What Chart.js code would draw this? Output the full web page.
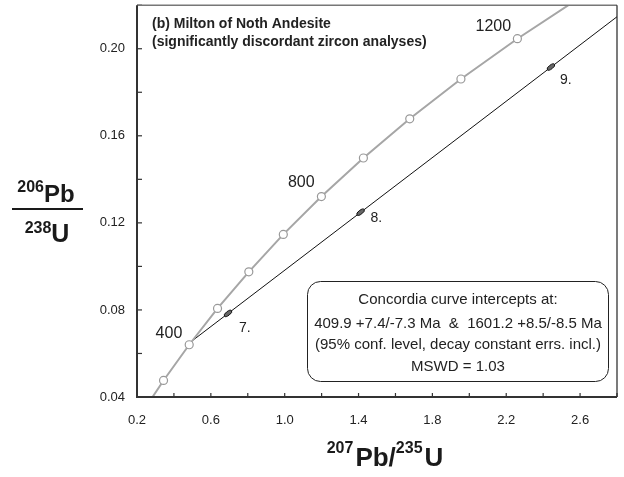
<!DOCTYPE html>
<html>
<head>
<meta charset="utf-8">
<script src="https://cdn.jsdelivr.net/npm/chart.js@4"></script>
<style>
  body { margin: 0; background: #fff; }
  canvas { display: block; }
</style>
</head>
<body>
<canvas id="concordia" width="624" height="477"></canvas>
<script>
// concordia curve, one marker every 100 Ma
const concordiaAges = [200, 300, 400, 500, 600, 700, 800, 900, 1000, 1100, 1200, 1300];
const concordiaX = [0.2177, 0.3437, 0.4828, 0.6362, 0.8057, 0.9925, 1.1988, 1.4263, 1.6774, 1.9546, 2.2604, 2.5977];
const concordiaY = [0.0315, 0.0476, 0.0640, 0.0807, 0.0975, 0.1147, 0.1321, 0.1498, 0.1678, 0.1861, 0.2046, 0.2234];

// discordia line (lower intercept -> right edge)
const discordiaX = [0.4973, 2.8];
const discordiaY = [0.0657, 0.2147];

// zircon analyses
const spotNames = ['7.', '8.', '9.'];
const spotX = [0.693, 1.411, 2.442];
const spotY = [0.0784, 0.1249, 0.1916];
const spotLabelX = [0.784, 1.496, 2.523];
const spotLabelY = [0.0717, 0.1222, 0.1857];

// age labels on concordia
const ageLabels = ['400', '800', '1200'];
const ageLabelX = [0.373, 1.090, 2.130];
const ageLabelY = [0.0690, 0.1385, 0.2103];

const xTickLabels = ['0.2', '0.6', '1.0', '1.4', '1.8', '2.2', '2.6'];
const yTickLabels = ['0.04', '0.08', '0.12', '0.16', '0.20'];

const boxLines = [
  'Concordia curve intercepts at:',
  '409.9 +7.4/-7.3 Ma  &  1601.2 +8.5/-8.5 Ma',
  '(95% conf. level, decay constant errs. incl.)',
  'MSWD = 1.03'
];

const FONT = '"Liberation Sans", Arial, sans-serif';

function drawParts(ctx, parts, cx, baseline) {
  let total = 0;
  parts.forEach(p => { ctx.font = p.font; total += ctx.measureText(p.text).width + (p.gap || 0); });
  let x = cx - total / 2;
  ctx.textAlign = 'left';
  ctx.textBaseline = 'alphabetic';
  parts.forEach(p => {
    ctx.font = p.font;
    ctx.fillText(p.text, x, baseline + (p.dy || 0));
    x += ctx.measureText(p.text).width + (p.gap || 0);
  });
}

function noPad(s) {
  s.paddingTop = 0; s.paddingBottom = 0; s.paddingLeft = 0; s.paddingRight = 0;
}

const decorPlugin = {
  id: 'decor',
  beforeDatasetsDraw(chart) {
    const { ctx, chartArea: a, scales: { x, y } } = chart;
    ctx.save();
    // inward tick marks
    ctx.strokeStyle = '#333';
    ctx.lineWidth = 1.2;
    x.ticks.forEach(t => {
      const px = x.getPixelForValue(t.value);
      ctx.beginPath(); ctx.moveTo(px, a.bottom); ctx.lineTo(px, a.bottom - 4); ctx.stroke();
    });
    y.ticks.forEach(t => {
      const py = y.getPixelForValue(t.value);
      ctx.beginPath(); ctx.moveTo(a.left, py); ctx.lineTo(a.left + 5, py); ctx.stroke();
    });
    ctx.restore();
  },
  afterDatasetsDraw(chart) {
    const { ctx, chartArea: a, scales: { x, y } } = chart;
    ctx.save();

    // error ellipses along the discordia
    const ang = Math.atan2(
      y.getPixelForValue(discordiaY[1]) - y.getPixelForValue(discordiaY[0]),
      x.getPixelForValue(discordiaX[1]) - x.getPixelForValue(discordiaX[0]));
    spotX.forEach((v, i) => {
      ctx.beginPath();
      ctx.ellipse(x.getPixelForValue(v), y.getPixelForValue(spotY[i]), 4.5, 2, ang, 0, Math.PI * 2);
      ctx.fillStyle = '#666';
      ctx.fill();
      ctx.strokeStyle = '#111';
      ctx.lineWidth = 1;
      ctx.stroke();
    });

    ctx.fillStyle = '#222';
    ctx.textAlign = 'center';
    ctx.textBaseline = 'middle';
    ctx.font = '14px ' + FONT;
    spotNames.forEach((s, i) => {
      ctx.fillText(s, x.getPixelForValue(spotLabelX[i]), y.getPixelForValue(spotLabelY[i]));
    });
    ctx.font = '16px ' + FONT;
    ageLabels.forEach((s, i) => {
      ctx.fillText(s, x.getPixelForValue(ageLabelX[i]), y.getPixelForValue(ageLabelY[i]));
    });

    // panel title
    ctx.textAlign = 'left';
    ctx.font = 'bold 14px ' + FONT;
    ctx.fillText('(b) Milton of Noth Andesite', a.left + 15, 24);
    ctx.fillText('(significantly discordant zircon analyses)', a.left + 15, 42);

    // result box
    ctx.beginPath();
    ctx.roundRect(307.5, 281.5, 301, 100, 13);
    ctx.fillStyle = '#fff';
    ctx.fill();
    ctx.strokeStyle = '#222';
    ctx.lineWidth = 1;
    ctx.stroke();
    ctx.fillStyle = '#222';
    ctx.textAlign = 'center';
    ctx.font = '15px ' + FONT;
    const by = [300, 324, 345, 367];
    boxLines.forEach((s, i) => ctx.fillText(s, 458, by[i]));

    // frame
    ctx.lineWidth = 1.5;
    ctx.strokeStyle = '#777';
    ctx.beginPath(); ctx.moveTo(a.left, a.top); ctx.lineTo(a.right, a.top); ctx.stroke();
    ctx.strokeStyle = '#222';
    ctx.lineWidth = 1.2;
    ctx.beginPath(); ctx.moveTo(a.right, a.top); ctx.lineTo(a.right, a.bottom); ctx.stroke();
    ctx.lineWidth = 2;
    ctx.strokeStyle = '#333';
    ctx.beginPath(); ctx.moveTo(a.left, a.top); ctx.lineTo(a.left, a.bottom); ctx.lineTo(a.right, a.bottom); ctx.stroke();

    // axis titles
    ctx.fillStyle = '#1a1a1a';
    drawParts(ctx, [
      { text: '206', font: 'bold 16px ' + FONT, dy: -10 },
      { text: 'Pb', font: 'bold 24px ' + FONT }
    ], 46, 202);
    ctx.fillRect(12, 208, 71, 2);
    drawParts(ctx, [
      { text: '238', font: 'bold 16px ' + FONT, dy: -9 },
      { text: 'U', font: 'bold 25px ' + FONT }
    ], 47, 242);
    drawParts(ctx, [
      { text: '207', font: 'bold 16px ' + FONT, dy: -13, gap: 2 },
      { text: 'Pb/', font: 'bold 26px ' + FONT },
      { text: '235', font: 'bold 16px ' + FONT, dy: -13, gap: 2 },
      { text: 'U', font: 'bold 26px ' + FONT }
    ], 385, 466);

    ctx.restore();
  }
};

document.addEventListener('DOMContentLoaded', () => {
  const ctx = document.getElementById('concordia').getContext('2d');
  new Chart(ctx, {
    type: 'scatter',
    data: {
      datasets: [{
        label: 'Concordia',
        data: concordiaX.map((v, i) => ({ x: v, y: concordiaY[i], age: concordiaAges[i] })),
        showLine: true,
        borderColor: '#a6a6a6',
        borderWidth: 2,
        pointRadius: 4,
        pointBackgroundColor: '#fff',
        pointBorderColor: '#999',
        pointBorderWidth: 1.2,
        tension: 0,
        order: 1
      }, {
        label: 'Discordia',
        data: discordiaX.map((v, i) => ({ x: v, y: discordiaY[i] })),
        showLine: true,
        borderColor: '#111',
        borderWidth: 1,
        pointRadius: 0,
        order: 2
      }]
    },
    options: {
      responsive: false,
      devicePixelRatio: 1,
      animation: false,
      layout: { padding: { top: 5, right: 7, left: 0, bottom: 0 } },
      plugins: { legend: { display: false }, tooltip: { enabled: false } },
      scales: {
        x: {
          type: 'linear',
          min: 0.2,
          max: 2.8,
          afterFit: s => { s.height = 80; noPad(s); },
          grid: { display: false },
          border: { display: false },
          ticks: {
            stepSize: 0.2,
            padding: 8,
            maxRotation: 0,
            autoSkip: false,
            color: '#222',
            font: { family: FONT, size: 13 },
            callback: v => {
              const s = Number(v).toFixed(1);
              return xTickLabels.includes(s) ? s : '';
            }
          }
        },
        y: {
          min: 0.04,
          max: 0.22,
          afterFit: s => { s.width = 137; noPad(s); },
          grid: { display: false },
          border: { display: false },
          ticks: {
            stepSize: 0.02,
            padding: 4,
            autoSkip: false,
            color: '#222',
            font: { family: FONT, size: 13 },
            callback: v => {
              const s = Number(v).toFixed(2);
              return yTickLabels.includes(s) ? s : '';
            }
          }
        }
      }
    },
    plugins: [decorPlugin]
  });
});
</script>
</body>
</html>
